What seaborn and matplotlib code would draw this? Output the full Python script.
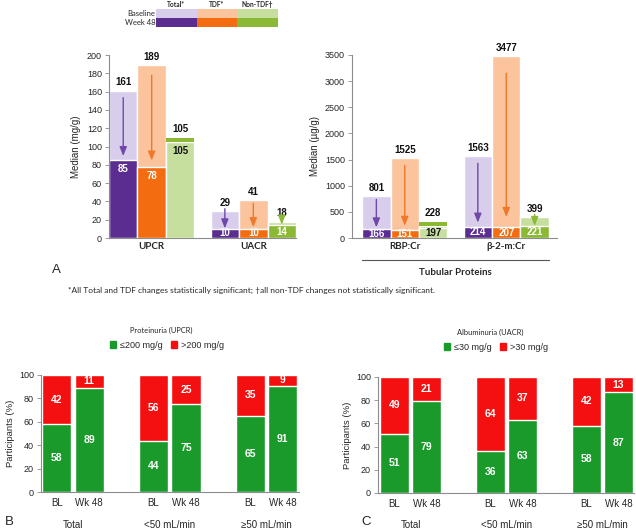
import matplotlib
matplotlib.use("Agg")
import matplotlib.pyplot as plt
from matplotlib.colors import ListedColormap
from matplotlib.patches import Patch
import seaborn as sns
import pandas as pd
import numpy as np

# Panel A: medians at baseline and week 48 (marker-major, arm order)
arms = ["Total", "TDF", "Non-TDF"]
renal_markers = ["UPCR", "UACR"]
renal_bl = [161, 189, 105, 29, 41, 18]
renal_wk48 = [85, 78, 105, 10, 10, 14]
tubular_markers = ["RBP:Cr", "β-2-m:Cr"]
tubular_bl = [801, 1525, 228, 1563, 3477, 399]
tubular_wk48 = [166, 151, 197, 214, 207, 221]

# Panels B/C: % participants (subgroup-major, BL then Wk 48)
subgroups = ["Total", "<50 mL/min", "≥50 mL/min"]
visits = ["BL", "Wk 48"]
upcr_low = [58, 89, 44, 75, 65, 91]
upcr_high = [42, 11, 56, 25, 35, 9]
uacr_low = [51, 79, 36, 63, 58, 87]
uacr_high = [49, 21, 64, 37, 42, 13]

# colours
light = ["#d9cdec", "#fbc49c", "#c6df9e"]
dark = ["#5b2d91", "#f36c10", "#8cb935"]
arrow_c = ["#6f48a8", "#f0782a", "#8cb935"]
green = "#1b9a2c"
red = "#f41010"
# bars where the week 48 bar is not shaded (style only)
faded = [("UPCR", "Non-TDF"), ("RBP:Cr", "Non-TDF")]

sns.set_theme(style="white")
plt.rcParams["font.family"] = ["Liberation Sans", "DejaVu Sans"]
calibri = ["Lato", "DejaVu Sans"]

fig = plt.figure(figsize=(6.36, 5.30), dpi=100)
W, H = 636, 530


def rect(x0, ytop, x1, ybot):
    return [x0 / W, 1 - ybot / H, (x1 - x0) / W, (ybot - ytop) / H]


def style_axes(ax):
    for s in ["top", "right"]:
        ax.spines[s].set_visible(False)
    for s in ["left", "bottom"]:
        ax.spines[s].set_color("#8c8c8c")
        ax.spines[s].set_linewidth(0.8)
    ax.tick_params(axis="y", left=True, length=3, width=0.6, color="#8c8c8c",
                   labelsize=6.5, pad=2)
    ax.tick_params(axis="x", bottom=False, length=0)


def median_panel(ax, markers, bl, wk48, ymax, step, xlim):
    df = pd.DataFrame({"marker": np.repeat(markers, 3), "arm": arms * len(markers),
                       "bl": bl, "wk48": wk48})
    sns.barplot(data=df, x="marker", y="bl", hue="arm", hue_order=arms, palette=light,
                width=0.84, saturation=1, errorbar=None, legend=False, ax=ax)
    sns.barplot(data=df, x="marker", y="wk48", hue="arm", hue_order=arms, palette=dark,
                width=0.84, saturation=1, errorbar=None, legend=False, ax=ax)
    style_axes(ax)
    ax.set_ylim(0, ymax)
    ax.set_yticks(np.arange(0, ymax + 1, step))
    ax.set_xlim(*xlim)
    ax.set_xlabel("")
    ax.set_ylabel("")
    ax.tick_params(axis="x", pad=3)
    for t in ax.get_xticklabels():
        t.set_fontfamily(calibri)
        t.set_fontweight("bold")
        t.set_fontsize(7)
    for i, m in enumerate(markers):
        for k, a in enumerate(arms):
            b = df["bl"][i * 3 + k]
            w = df["wk48"][i * 3 + k]
            bar = ax.containers[3 + k][i]
            x = bar.get_x() + bar.get_width() / 2
            is_faded = (m, a) in faded
            top_off = 2.5
            txt_c = "white"
            if is_faded:
                bar.set_facecolor(light[k])
                ax.bar(x, ymax * 0.022, bottom=b, width=bar.get_width(),
                       color=dark[k], linewidth=0, zorder=3)
                top_off = 6
                txt_c = "#111111"
            ax.annotate(str(b), (x, b), xytext=(0, top_off), textcoords="offset points",
                        ha="center", va="bottom", fontsize=7, fontweight="bold",
                        color="#111111", annotation_clip=False)
            if w / ymax < 0.1:
                ax.annotate(str(w), (x, w / 2), ha="center", va="center", fontsize=7,
                            fontweight="bold", color=txt_c)
            else:
                ax.annotate(str(w), (x, w), xytext=(0, -3), textcoords="offset points",
                            ha="center", va="top", fontsize=7, fontweight="bold",
                            color=txt_c)
            if is_faded or w >= b:
                continue
            d = b - w
            start = b - 0.1 * d if d > 0.1 * ymax else b + 0.015 * ymax
            end = w + 0.06 * d if d > 0.1 * ymax else w + 0.003 * ymax
            ax.annotate("", xy=(x, end), xytext=(x, start),
                        arrowprops=dict(arrowstyle="-|>,head_length=0.45,head_width=0.18",
                                        color=arrow_c[k], lw=1.0, shrinkA=0, shrinkB=0))


# ---- top legend (Baseline / Week 48 colour key)
lax = fig.add_axes(rect(156, 9, 278, 27))
sns.heatmap(np.arange(6).reshape(2, 3), cmap=ListedColormap(light + dark), vmin=-0.5,
            vmax=5.5, cbar=False, ax=lax,
            xticklabels=["Total*", "TDF*", "Non-TDF†"],
            yticklabels=["Baseline", "Week 48"])
lax.xaxis.tick_top()
lax.tick_params(length=0, pad=0.5)
for t in lax.get_xticklabels():
    t.set_fontfamily(calibri)
    t.set_fontweight("bold")
    t.set_fontsize(4.8)
for t in lax.get_yticklabels():
    t.set_fontfamily(calibri)
    t.set_fontsize(5.5)
    t.set_rotation(0)

# ---- panel A
axa1 = fig.add_axes(rect(109, 55, 296, 238))
median_panel(axa1, renal_markers, renal_bl, renal_wk48, 200, 20, (-0.42, 1.42))
axa1.set_ylabel("Median (mg/g)", fontsize=7, labelpad=4)

axa2 = fig.add_axes(rect(352, 55, 557, 238))
median_panel(axa2, tubular_markers, tubular_bl, tubular_wk48, 3500, 500, (-0.52, 1.5))
axa2.set_ylabel("Median (µg/g)", fontsize=7, labelpad=4)
first = axa2.containers[0][0]
last = axa2.containers[2][1]
axa2.plot([first.get_x(), last.get_x() + last.get_width()], [-0.12, -0.12], color="#555555",
          lw=0.8, transform=axa2.get_xaxis_transform(), clip_on=False)
axa2.text(0.5 * (first.get_x() + last.get_x() + last.get_width()), -0.19, "Tubular Proteins",
          transform=axa2.get_xaxis_transform(), ha="center", va="center", fontsize=7,
          fontweight="bold", family=calibri)

fig.text(56 / W, 1 - 270 / H, "A", fontsize=9.5, ha="center", va="center")
fig.text(251 / W, 1 - 290 / H,
         "*All Total and TDF changes statistically significant; †all non-TDF changes not statistically significant.",
         fontsize=6, ha="center", va="center", family=calibri)


# ---- panels B and C
def share_panel(ax, low, high, xlim):
    df = pd.DataFrame({"subgroup": np.repeat(subgroups, 2), "visit": visits * 3,
                       "low": low, "high": high})
    df["total"] = df["low"] + df["high"]
    sns.barplot(data=df, x="subgroup", y="total", hue="visit", hue_order=visits,
                palette=[red, red], width=0.67, gap=0.1, saturation=1, errorbar=None,
                legend=False, ax=ax)
    sns.barplot(data=df, x="subgroup", y="low", hue="visit", hue_order=visits,
                palette=[green, green], width=0.67, gap=0.1, saturation=1, errorbar=None,
                legend=False, ax=ax)
    style_axes(ax)
    ax.set_ylim(0, 100)
    ax.set_yticks(range(0, 101, 20))
    ax.set_xlim(*xlim)
    ax.set_xlabel("")
    ax.set_ylabel("Participants (%)", fontsize=6.8, labelpad=3)
    centers, labels = [], []
    for i in range(len(subgroups)):
        for j in range(len(visits)):
            bar = ax.containers[2 + j][i]
            x = bar.get_x() + bar.get_width() / 2
            lo = df["low"][i * 2 + j]
            hi = df["high"][i * 2 + j]
            centers.append(x)
            labels.append(visits[j])
            ax.text(x, lo / 2, str(lo), ha="center", va="center", color="white",
                    fontsize=7.5, fontweight="bold")
            ax.text(x, lo + hi / 2, str(hi), ha="center", va="center", color="white",
                    fontsize=7.5, fontweight="bold")
        ax.text(i, -0.28, subgroups[i], transform=ax.get_xaxis_transform(), ha="center",
                va="center", fontsize=7)
    ax.set_xticks(centers)
    ax.set_xticklabels(labels, fontsize=7)
    ax.tick_params(axis="x", pad=4)


axb = fig.add_axes(rect(41, 375, 299, 492))
share_panel(axb, upcr_low, upcr_high, (-0.33, 2.335))
axc = fig.add_axes(rect(378, 377, 634, 493))
share_panel(axc, uacr_low, uacr_high, (-0.34, 2.33))

fig.text(161 / W, 1 - 330 / H, "Proteinuria (UPCR)", fontsize=5.4, ha="center",
         va="center", family=calibri)
fig.text(490 / W, 1 - 332 / H, "Albuminuria (UACR)", fontsize=5.4, ha="center",
         va="center", family=calibri)
fig.legend(handles=[Patch(color=green, label="≤200 mg/g"), Patch(color=red, label=">200 mg/g")],
           loc="center", bbox_to_anchor=(167 / W, 1 - 345 / H), ncol=2, frameon=False,
           fontsize=6.5, handlelength=0.7, handleheight=0.7, handletextpad=0.4,
           columnspacing=0.9, borderpad=0)
fig.legend(handles=[Patch(color=green, label="≤30 mg/g"), Patch(color=red, label=">30 mg/g")],
           loc="center", bbox_to_anchor=(496 / W, 1 - 347 / H), ncol=2, frameon=False,
           fontsize=6.5, handlelength=0.7, handleheight=0.7, handletextpad=0.4,
           columnspacing=0.9, borderpad=0)
fig.text(9 / W, 1 - 522 / H, "B", fontsize=9.5, ha="center", va="center")
fig.text(366 / W, 1 - 522 / H, "C", fontsize=9.5, ha="center", va="center")

fig.savefig("out.png", dpi=100)
